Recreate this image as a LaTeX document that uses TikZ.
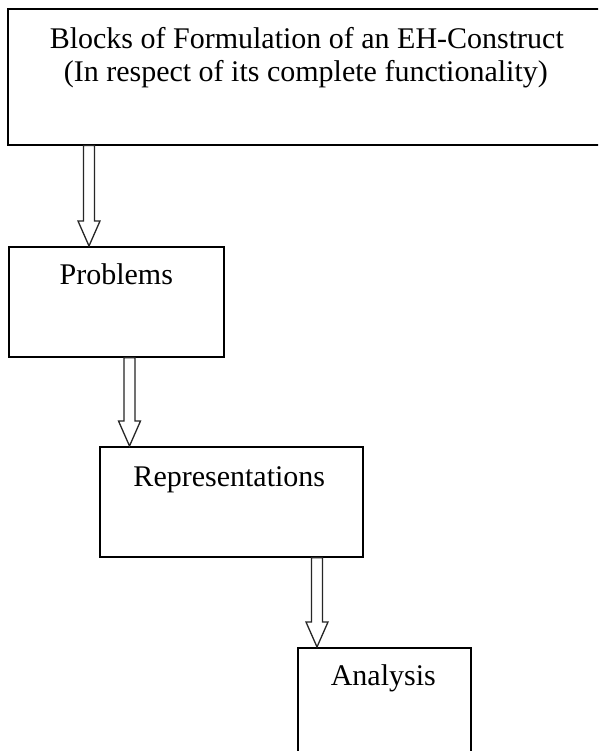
\documentclass[tikz,border=0pt]{standalone}
\usepackage{fontspec}
\setmainfont{Liberation Serif}
\usetikzlibrary{calc}
\tikzset{
  box/.style={draw=black, line width=1.6pt, rectangle, inner sep=0pt, anchor=north west},
  txt/.style={inner sep=0pt, anchor=base, font=\fontsize{30}{33}\selectfont},
  blockarr/.style={draw=black!85, line width=1.3pt, fill=white, line join=miter},
}
\newcommand\hollowarrow[2]{%
  \draw[blockarr] ($(#1)+(-5.5,0)$) -- ($(#2)+(-5.5,-25)$) -- ($(#2)+(-11,-25)$) -- (#2)
    -- ($(#2)+(11,-25)$) -- ($(#2)+(5.5,-25)$) -- ($(#1)+(5.5,0)$) -- cycle;}
\begin{document}
\begin{tikzpicture}[x=1pt,y=-1pt]
\useasboundingbox (0,0) rectangle (598,751);
\clip (0,0) rectangle (598,751);
\fill[white] (0,0) rectangle (598,751);
% boxes
\node[box, minimum width=598pt, minimum height=136pt] (top) at (7,8) {};
\node[box, minimum width=215pt, minimum height=110pt] (prob) at (8,246) {};
\node[box, minimum width=263pt, minimum height=110pt] (repr) at (99,446) {};
\node[box, minimum width=173pt, minimum height=130pt] (anal) at (297,647) {};
% texts
\node[txt] (t1) at ($(top.north)+(0,41)$) {Blocks of Formulation of an EH-Construct};
\node[txt] (t2) at ($(top.north)+(-1,74)$) {(In respect of its complete functionality)};
\node[txt] (tp) at ($(prob.north)+(0,38)$) {Problems};
\node[txt] (tr) at ($(repr.north)+(-2,40)$) {Representations};
\node[txt] (ta) at ($(anal.north)+(-1,38)$) {Analysis};
% arrow anchor points
\coordinate (a1s) at (top.south west -| 89,0);
\coordinate (a1t) at (prob.north west -| 89,0);
\coordinate (a2s) at (prob.south west -| 129.5,0);
\coordinate (a2t) at (repr.north west -| 129.5,0);
\coordinate (a3s) at (repr.south west -| 317,0);
\coordinate (a3t) at (anal.north west -| 317,0);
\hollowarrow{a1s}{a1t}
\hollowarrow{a2s}{a2t}
\hollowarrow{a3s}{a3t}
\end{tikzpicture}
\end{document}
